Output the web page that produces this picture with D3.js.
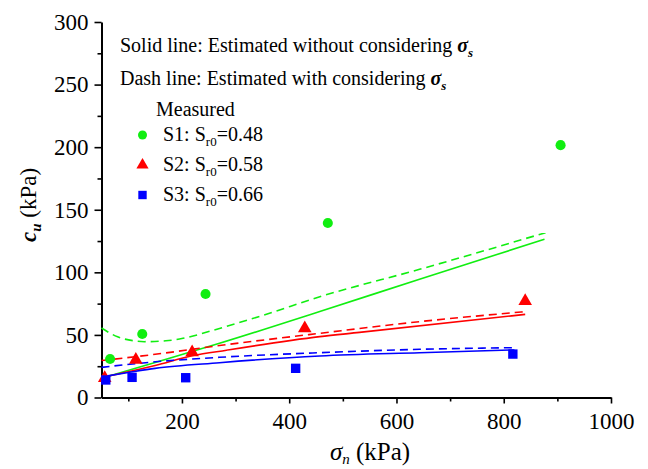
<!DOCTYPE html>
<html>
<head>
<meta charset="utf-8">
<script src="https://cdn.jsdelivr.net/npm/d3@7"></script>
<style>
  html, body { margin: 0; padding: 0; background: #fff; }
  svg { display: block; }
  svg text { font-family: "Liberation Serif", "DejaVu Serif", "Times New Roman", serif; fill: #000; }
</style>
</head>
<body>
<svg id="chart" width="648" height="469"></svg>
<script>
// Measured undrained shear strength c_u (kPa) against net normal stress σn (kPa)
const s1Measured = [[66, 30.8], [126, 50.7], [244, 82.7], [472, 139.4], [906, 201.6]];
const s2Measured = [[56, 15.6], [114, 30.0], [219, 36.0], [429, 55.3], [840, 77.0]];
const s3Measured = [[58, 14.0], [107, 16.1], [207, 15.8], [412, 23.3], [817, 34.7]];

// Estimated curves: solid = without σs, dashed = with σs
const s1Solid  = [[50, 15.3], [150, 28], [270, 43.3], [457, 68.7], [643, 94.5], [876, 126.4]];
const s1Dashed = [[50, 55.5], [80, 48.5], [110, 45.3], [130, 44.6], [170, 45.3], [202, 47.3], [270, 55.2], [350, 65.5], [457, 80.5], [643, 102.4], [878, 131.7]];
const s2Solid  = [[50, 16], [100, 20.5], [150, 25.5], [221, 33.5], [283, 37.8], [457, 48.6], [531, 52], [840, 66.4]];
const s2Dashed = [[50, 29.5], [150, 34.5], [270, 41.5], [457, 51.3], [643, 60.6], [840, 68.6]];
const s3Solid  = [[50, 16.5], [100, 20], [150, 23.3], [270, 27.8], [457, 33.2], [643, 35.8], [820, 38]];
const s3Dashed = [[50, 24.1], [150, 28.5], [270, 32.1], [457, 35.8], [643, 38.5], [820, 39.8]];

const xMajorTicks = [200, 400, 600, 800, 1000];
const xMinorTicks = [100, 300, 500, 700, 900];
const yMajorTicks = [0, 50, 100, 150, 200, 250, 300];
const yMinorTicks = [25, 75, 125, 175, 225, 275];

const seriesNames = ["S1", "S2", "S3"];
const seriesSr0 = ["0.48", "0.58", "0.66"];
const seriesColors = ["#11ee11", "#ff0000", "#0000ff"];

const FONT = '"Liberation Serif", "DejaVu Serif", "Times New Roman", serif';

const svg = d3.select("#chart");
const x = d3.scaleLinear().domain([50, 1000]).range([101.5, 611]);
const y = d3.scaleLinear().domain([0, 300]).range([397.5, 22]);

// Axes
function styleAxis(g) {
  g.attr("font-family", null).attr("font-size", null);
  g.selectAll(".domain").attr("stroke", "#000").attr("stroke-width", 2);
  g.selectAll(".tick line").attr("stroke", "#000").attr("stroke-width", 1.6);
  g.selectAll("text").attr("fill", "#000")
    .style("font-family", FONT).style("font-size", "23px");
}
const xAxisG = svg.append("g").attr("transform", `translate(0,${y(0)})`)
  .call(d3.axisBottom(x).tickValues(xMajorTicks).tickSize(6).tickSizeOuter(0).tickPadding(9).tickFormat(d3.format("d")));
styleAxis(xAxisG);
const xMinorG = svg.append("g").attr("transform", `translate(0,${y(0)})`)
  .call(d3.axisBottom(x).tickValues(xMinorTicks).tickSize(4).tickFormat(""));
xMinorG.select(".domain").remove();
styleAxis(xMinorG);

const yAxisG = svg.append("g").attr("transform", `translate(${x(50)},0)`)
  .call(d3.axisLeft(y).tickValues(yMajorTicks).tickSize(7).tickSizeOuter(0).tickPadding(6).tickFormat(d3.format("d")));
styleAxis(yAxisG);
const yMinorG = svg.append("g").attr("transform", `translate(${x(50)},0)`)
  .call(d3.axisLeft(y).tickValues(yMinorTicks).tickSize(4).tickFormat(""));
yMinorG.select(".domain").remove();
styleAxis(yMinorG);

// Estimated curves
const line = d3.line().x(d => x(d[0])).y(d => y(d[1])).curve(d3.curveMonotoneX);
const curves = [
  [s1Solid, 0, false], [s1Dashed, 0, true],
  [s2Solid, 1, false], [s2Dashed, 1, true],
  [s3Solid, 2, false], [s3Dashed, 2, true]
];
curves.forEach(([data, i, dashed]) => {
  svg.append("path").datum(data).attr("d", line)
    .attr("fill", "none").attr("stroke", seriesColors[i]).attr("stroke-width", 1.6)
    .attr("stroke-dasharray", dashed ? "8,5" : null);
});

// Measured points
const symbolTypes = [d3.symbolCircle, d3.symbolTriangle, d3.symbolSquare];
const symbolSizes = [80, 80, 88];
[s1Measured, s2Measured, s3Measured].forEach((data, i) => {
  svg.append("g").selectAll("path").data(data).join("path")
    .attr("d", d3.symbol().type(symbolTypes[i]).size(symbolSizes[i]))
    .attr("transform", d => `translate(${x(d[0])},${y(d[1])})`)
    .attr("fill", seriesColors[i]);
});

function addText(attrs, size) {
  const t = svg.append("text").style("font-family", FONT).style("font-size", size + "px");
  Object.entries(attrs).forEach(([k, v]) => t.attr(k, v));
  return t;
}

// Legend notes
const notes = [["Solid line: Estimated without considering ", 52], ["Dash line: Estimated with considering ", 85]];
notes.forEach(([label, by]) => {
  const t = addText({ x: 120, y: by }, 20);
  t.append("tspan").text(label);
  t.append("tspan").text("σ").style("font-weight", "bold").style("font-style", "italic");
  t.append("tspan").text("s").attr("dy", 5).style("font-size", "13px").style("font-weight", "bold").style("font-style", "italic");
});

addText({ x: 156, y: 116 }, 20).text("Measured");
seriesNames.forEach((name, i) => {
  const cy = 135 + i * 30;
  svg.append("path")
    .attr("d", d3.symbol().type(symbolTypes[i]).size(symbolSizes[i] * 0.8))
    .attr("transform", `translate(142.5,${cy})`).attr("fill", seriesColors[i]);
  const t = addText({ x: 163, y: cy + 6 }, 20);
  t.append("tspan").text(`${name}: S`);
  t.append("tspan").text("r0").attr("dy", 5).style("font-size", "13px");
  t.append("tspan").text(`=${seriesSr0[i]}`).attr("dy", -5);
});

// Axis titles
const xt = addText({ x: 370, y: 460, "text-anchor": "middle" }, 25);
xt.append("tspan").text("σ").style("font-style", "italic");
xt.append("tspan").text("n").attr("dy", 4).style("font-size", "15px").style("font-style", "italic");
xt.append("tspan").text(" (kPa)").attr("dy", -4);

const yt = addText({ transform: "translate(36,205) rotate(-90)", "text-anchor": "middle" }, 23);
yt.append("tspan").text("c").style("font-weight", "bold").style("font-style", "italic");
yt.append("tspan").text("u").attr("dy", 5).style("font-size", "15px").style("font-weight", "bold").style("font-style", "italic");
yt.append("tspan").text(" (kPa)").attr("dy", -5);
</script>
</body>
</html>
